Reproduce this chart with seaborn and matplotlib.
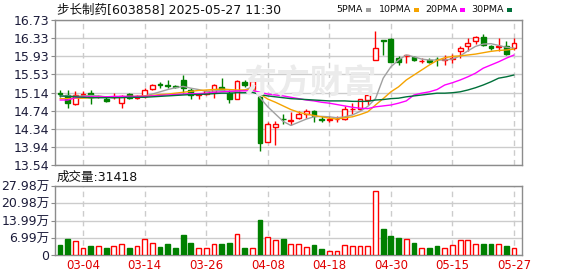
import numpy as np
import pandas as pd
import matplotlib
matplotlib.use("Agg")
import matplotlib.pyplot as plt
import seaborn as sns

# ---------------- data ----------------
dates = ["02-27", "02-28", "03-03", "03-04", "03-05", "03-06", "03-07", "03-10", "03-11", "03-12",
         "03-13", "03-14", "03-17", "03-18", "03-19", "03-20", "03-21", "03-24", "03-25", "03-26",
         "03-27", "03-28", "03-31", "04-01", "04-02", "04-03", "04-07", "04-08", "04-09", "04-10",
         "04-11", "04-14", "04-15", "04-16", "04-17", "04-18", "04-21", "04-22", "04-23", "04-24",
         "04-25", "04-28", "04-29", "04-30", "05-06", "05-07", "05-08", "05-09", "05-12", "05-13",
         "05-14", "05-15", "05-16", "05-19", "05-20", "05-21", "05-22", "05-23", "05-26", "05-27"]

open_ = [15.12, 15.07, 14.88, 15.09, 15.13, 15.05, 14.99, 15.03, 14.91, 15.11,
         15.02, 15.06, 15.22, 15.32, 15.31, 15.27, 15.42, 15.20, 15.09, 15.10,
         15.15, 15.25, 15.13, 15.00, 15.36, 15.22, 15.04, 14.04, 14.37, 14.56,
         14.51, 14.57, 14.66, 14.73, 14.55, 14.54, 14.55, 14.56, 14.77, 14.78,
         14.98, 15.85, 16.28, 16.31, 15.89, 15.93, 15.91, 15.82, 15.85, 15.88,
         15.86, 15.88, 16.04, 16.15, 16.26, 16.35, 16.16, 16.14, 16.16, 16.11]
close = [15.11, 14.91, 15.09, 15.10, 15.04, 15.06, 14.94, 15.04, 15.06, 15.02,
         15.06, 15.20, 15.29, 15.31, 15.28, 15.26, 15.24, 15.08, 15.11, 15.17,
         15.31, 15.20, 14.99, 15.39, 15.29, 15.39, 14.02, 14.44, 14.44, 14.55,
         14.52, 14.66, 14.73, 14.61, 14.54, 14.55, 14.56, 14.77, 14.78, 14.99,
         15.07, 16.11, 16.27, 15.81, 15.81, 15.96, 15.85, 15.83, 15.80, 15.87,
         15.87, 15.89, 16.11, 16.23, 16.35, 16.18, 16.11, 16.15, 15.98, 16.23]
high = [15.18, 15.18, 15.17, 15.17, 15.19, 15.09, 15.04, 15.12, 15.09, 15.13,
        15.07, 15.24, 15.33, 15.37, 15.41, 15.29, 15.53, 15.23, 15.13, 15.18,
        15.32, 15.46, 15.20, 15.42, 15.42, 15.42, 15.06, 14.48, 14.51, 14.66,
        14.70, 14.73, 14.77, 14.75, 14.61, 14.62, 14.62, 14.84, 14.91, 15.00,
        15.13, 16.48, 16.29, 16.33, 15.93, 15.96, 15.94, 15.89, 15.90, 15.91,
        15.96, 15.98, 16.15, 16.33, 16.38, 16.42, 16.18, 16.34, 16.26, 16.33]
low = [15.04, 14.80, 14.87, 15.05, 14.89, 15.01, 14.92, 14.99, 14.79, 15.00,
       14.99, 15.02, 15.18, 15.24, 15.23, 15.24, 15.13, 14.99, 14.99, 15.08,
       15.02, 15.18, 14.91, 14.99, 15.26, 15.20, 13.84, 14.04, 13.97, 14.44,
       14.42, 14.55, 14.58, 14.48, 14.49, 14.48, 14.48, 14.54, 14.66, 14.76,
       14.86, 15.84, 15.96, 15.81, 15.74, 15.79, 15.83, 15.79, 15.78, 15.72,
       15.74, 15.78, 15.89, 16.04, 16.21, 16.16, 16.06, 16.05, 15.95, 16.07]

ma5 = [15.06, 15.06, 15.05, 15.06, 15.07, 15.06, 15.04, 15.04, 15.03, 15.04,
       15.04, 15.06, 15.10, 15.15, 15.20, 15.24, 15.27, 15.23, 15.20, 15.16,
       15.17, 15.18, 15.16, 15.16, 15.19, 15.26, 15.02, 14.82, 14.66, 14.50,
       14.41, 14.48, 14.55, 14.60, 14.61, 14.60, 14.58, 14.60, 14.64, 14.72,
       14.83, 15.00, 15.45, 15.70, 15.85, 15.96, 15.92, 15.87, 15.85, 15.85,
       15.85, 15.87, 15.94, 16.05, 16.15, 16.20, 16.21, 16.17, 16.13, 16.11]
ma10 = [15.00, 15.00, 15.01, 15.01, 15.02, 15.03, 15.03, 15.04, 15.04, 15.05,
        15.05, 15.06, 15.07, 15.09, 15.10, 15.12, 15.14, 15.16, 15.18, 15.19,
        15.20, 15.21, 15.20, 15.19, 15.19, 15.21, 15.10, 14.99, 14.92, 14.84,
        14.76, 14.70, 14.66, 14.63, 14.60, 14.57, 14.55, 14.58, 14.60, 14.65,
        14.71, 14.86, 15.00, 15.15, 15.26, 15.41, 15.52, 15.63, 15.74, 15.84,
        15.90, 15.93, 15.94, 15.96, 15.98, 16.01, 16.04, 16.06, 16.07, 16.09]
ma20 = [14.97, 14.97, 15.02, 15.04, 15.04, 15.04, 15.04, 15.05, 15.05, 15.05,
        15.05, 15.05, 15.06, 15.07, 15.08, 15.09, 15.10, 15.11, 15.11, 15.12,
        15.14, 15.15, 15.16, 15.17, 15.17, 15.18, 15.14, 15.10, 15.08, 15.06,
        15.03, 15.00, 14.97, 14.95, 14.92, 14.90, 14.87, 14.84, 14.81, 14.79,
        14.78, 14.82, 14.84, 14.86, 14.90, 14.95, 15.08, 15.12, 15.15, 15.20,
        15.30, 15.35, 15.41, 15.48, 15.56, 15.67, 15.74, 15.81, 15.89, 15.96]
ma30 = [15.06, 15.05, 15.04, 15.03, 15.02, 15.02, 15.02, 15.02, 15.02, 15.03,
        15.03, 15.03, 15.04, 15.05, 15.06, 15.07, 15.08, 15.09, 15.09, 15.10,
        15.11, 15.12, 15.12, 15.13, 15.13, 15.14, 15.09, 15.06, 15.04, 15.02,
        15.00, 14.99, 14.98, 14.97, 14.96, 14.95, 14.95, 14.95, 14.94, 14.94,
        14.94, 14.97, 14.98, 15.00, 15.01, 15.04, 15.06, 15.08, 15.10, 15.12,
        15.12, 15.13, 15.15, 15.19, 15.24, 15.30, 15.37, 15.45, 15.48, 15.52]

volume = [4.0, 6.5, 5.5, 3.0, 3.5, 3.8, 3.0, 3.8, 4.5, 2.7,
          3.8, 6.5, 5.0, 3.3, 4.3, 3.0, 8.2, 5.0, 3.0, 3.0,
          4.5, 4.5, 4.8, 8.5, 3.0, 3.0, 14.0, 7.5, 6.0, 6.5,
          4.3, 4.5, 3.3, 4.0, 2.3, 1.8, 1.8, 4.2, 3.5, 3.8,
          3.5, 26.0, 10.5, 7.8, 7.0, 6.5, 4.8, 3.0, 3.0, 3.5,
          3.0, 4.0, 6.0, 6.0, 4.3, 4.3, 4.3, 4.3, 3.5, 2.8]

price_tick_labels = ["13.54", "13.94", "14.34", "14.74", "15.14", "15.53", "15.93", "16.33", "16.73"]
vol_tick_labels = ["0", "6.99万", "13.99万", "20.98万", "27.98万"]
ma_names = ["5PMA", "10PMA", "20PMA", "30PMA"]
title = "步长制药[603858] 2025-05-27 11:30"
vol_title = "成交量:31418"

# ---------------- style ----------------
sns.set_theme(style="white")
plt.rcParams["font.family"] = ["DejaVu Sans", "Noto Sans CJK SC"]

RED = "#ff0000"
GREEN = "#008000"
ma_colors = ["#a0a0a0", "#f5a300", "#ff00ff", "#00703a"]
GRID = "#cccccc"
SPINE = "#8c8c8c"

W, H = 578, 276
fig = plt.figure(figsize=(W / 100, H / 100), dpi=100)
fig.patch.set_facecolor("white")

ax = fig.add_axes([55 / W, 1 - 165 / H, 467 / W, 145 / H])
axv = fig.add_axes([55 / W, 1 - 255 / H, 467 / W, 69 / H])

df = pd.DataFrame({"date": dates, "open": open_, "close": close, "high": high,
                   "low": low, "volume": volume,
                   "5PMA": ma5, "10PMA": ma10, "20PMA": ma20, "30PMA": ma30})
df["idx"] = np.arange(len(df))
df["up"] = df["close"] >= df["open"]

n = len(df)
xmin, xmax = -0.65, n - 1 + 1.04
tick_idx = list(range(3, n, 8))

# watermark
fig.text(310 / W, 1 - 84 / H, "东方财富", fontsize=24, color="#ebebeb",
         ha="center", va="center", fontweight="bold",
         family=["Noto Sans CJK SC", "DejaVu Sans"], zorder=0)

# ---------------- price panel ----------------
ax.set_facecolor("none")
bw = 0.62
for up, col in [(True, RED), (False, GREEN)]:
    sub = df[df["up"] == up]
    bot = np.minimum(sub["open"], sub["close"])
    top = np.maximum(sub["open"], sub["close"])
    hgt = np.maximum(top - bot, 0.004)
    ax.vlines(sub["idx"], sub["low"], bot, color=col, lw=1.0, zorder=3)
    ax.vlines(sub["idx"], top, sub["high"], color=col, lw=1.0, zorder=3)
    ax.bar(sub["idx"], hgt, bottom=bot, width=bw,
           facecolor="white" if up else col, edgecolor=col, linewidth=1.0, zorder=4)

for name, col in zip(ma_names, ma_colors):
    sns.lineplot(data=df, x="idx", y=name, ax=ax, color=col, linewidth=1.0,
                 estimator=None, zorder=5, legend=False)

ptick_vals = np.linspace(13.54, 16.73, 9)
ax.set_ylim(13.54, 16.73)
ax.set_xlim(xmin, xmax)
ax.set_yticks(ptick_vals)
ax.set_yticklabels(price_tick_labels)
ax.set_xticks(tick_idx)
ax.set_xticklabels([])
ax.set_xlabel("")
ax.set_ylabel("")
ax.grid(axis="y", color=GRID, lw=1.0, ls="-")
ax.grid(axis="x", color=GRID, lw=1.0, ls=(0, (4, 3)))
ax.set_axisbelow(True)
ax.tick_params(axis="y", left=True, length=3, width=0.8, color=SPINE,
               labelsize=9, labelcolor="#1c1c3a", pad=1)
ax.tick_params(axis="x", bottom=False, length=0)
for s in ax.spines.values():
    s.set_color(SPINE)
    s.set_linewidth(1.0)

# ---------------- volume panel ----------------
for up, col in [(True, RED), (False, GREEN)]:
    sub = df[df["up"] == up]
    axv.bar(sub["idx"], sub["volume"], width=bw,
            facecolor="white" if up else col, edgecolor=col, linewidth=1.0, zorder=3)

vtick_vals = np.linspace(0, 27.98, 5)
axv.set_ylim(0, 27.98)
axv.set_xlim(xmin, xmax)
axv.set_yticks(vtick_vals)
axv.set_yticklabels(vol_tick_labels)
axv.set_xticks(tick_idx)
axv.set_xticklabels([df["date"][i] for i in tick_idx])
axv.set_xlabel("")
axv.set_ylabel("")
axv.grid(axis="y", color=GRID, lw=1.0, ls="-")
axv.grid(axis="x", color=GRID, lw=1.0, ls=(0, (4, 3)))
axv.set_axisbelow(True)
axv.tick_params(axis="y", left=True, length=3, width=0.8, color=SPINE,
                labelsize=9, labelcolor="#1c1c3a", pad=1)
axv.tick_params(axis="x", bottom=False, length=0, labelsize=8.5,
                labelcolor="#e00000", pad=3)
for s in axv.spines.values():
    s.set_color(SPINE)
    s.set_linewidth(1.0)

# ---------------- texts ----------------
fig.text(57 / W, 1 - 10 / H, title, fontsize=9, color="#111111", ha="left", va="center")
fig.text(57 / W, 1 - 177 / H, vol_title, fontsize=9, color="#111111", ha="left", va="center")

leg_text_x = [336, 379, 425, 471]
leg_box_x = [366, 414, 460, 507]
for x0, xb, name, col in zip(leg_text_x, leg_box_x, ma_names, ma_colors):
    fig.text(x0 / W, 1 - 10 / H, name, fontsize=6.8, color="#111111",
             ha="left", va="center")
    fig.patches.append(matplotlib.patches.Rectangle(
        (xb / W, (H - 11.5) / H), 5 / W, 3 / H,
        transform=fig.transFigure, facecolor=col, edgecolor="none"))

fig.savefig("out.png", dpi=100)
